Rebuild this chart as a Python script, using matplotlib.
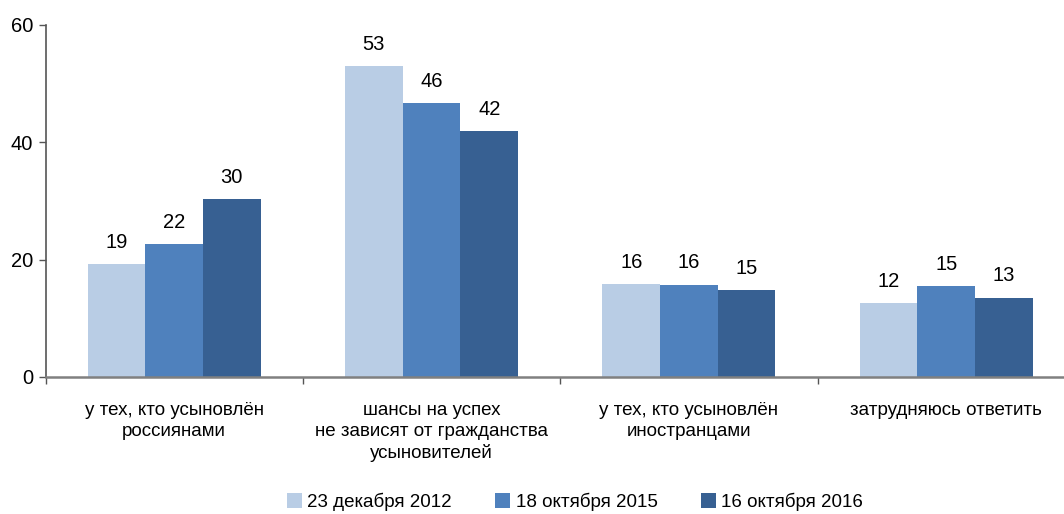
import matplotlib
matplotlib.use("Agg")
import matplotlib.pyplot as plt
import numpy as np
from matplotlib import font_manager

categories = ["у тех, кто усыновлён\nроссиянами",
              "шансы на успех\nне зависят от гражданства\nусыновителей",
              "у тех, кто усыновлён\nиностранцами",
              "затрудняюсь ответить"]
series_names = ["23 декабря 2012", "18 октября 2015", "16 октября 2016"]
values_2012 = [19.2, 53.0, 15.8, 12.6]
values_2015 = [22.6, 46.7, 15.7, 15.5]
values_2016 = [30.3, 41.9, 14.8, 13.5]
labels_2012 = [19, 53, 16, 12]
labels_2015 = [22, 46, 16, 15]
labels_2016 = [30, 42, 15, 13]
yticks = [0, 20, 40, 60]

colors = ["#B9CDE5", "#4F81BD", "#376092"]

names = {f.name for f in font_manager.fontManager.ttflist}
fam = ["Liberation Sans Narrow", "DejaVu Sans"] if "Liberation Sans Narrow" in names else ["Liberation Sans", "DejaVu Sans"]
plt.rcParams['font.family'] = fam

fig = plt.figure(figsize=(10.64, 5.14), dpi=100)
ax = fig.add_axes([45.5/1064, 137/514, (1075-45.5)/1064, 352/514])

x = np.arange(len(categories))
w = 0.224
series = [values_2012, values_2015, values_2016]
labels = [labels_2012, labels_2015, labels_2016]
for i, (vals, labs) in enumerate(zip(series, labels)):
    pos = x + (i - 1) * w
    ax.bar(pos, vals, width=w, color=colors[i], label=series_names[i], zorder=2)
    for p, v, l in zip(pos, vals, labs):
        ax.annotate(str(l), (p, v), xytext=(0, 9), textcoords="offset points",
                    ha="center", va="bottom", fontsize=14.5, color="#000000")

ax.set_xlim(-0.5, len(categories) - 0.5)
ax.set_ylim(0, 60)
ax.set_yticks(yticks)
ax.set_yticklabels([str(t) for t in yticks], fontsize=14.5, color="#000000")
ax.set_xticks(np.arange(len(categories) + 1) - 0.5)
ax.set_xticklabels([])
ax.tick_params(axis='x', length=5, width=1, color="#555555", direction='out')
ax.tick_params(axis='y', length=5, width=1, color="#555555", direction='out', pad=4)
for c, xc in zip(categories, x):
    ax.text(xc, -0.072, c, transform=ax.get_xaxis_transform(), ha="center", va="top",
            fontsize=13.5, color="#000000", linespacing=1.3)

for s in ["top", "right"]:
    ax.spines[s].set_visible(False)
ax.spines["left"].set_color("#555555")
ax.spines["bottom"].set_color("#808080")
ax.spines["left"].set_linewidth(1.2)
ax.spines["bottom"].set_linewidth(1.8)

leg = fig.legend(loc="center", bbox_to_anchor=(575/1064, 1 - 502/514), ncol=3, frameon=False,
                 fontsize=13.5, handlelength=0.8, handleheight=0.8, handletextpad=0.3,
                 columnspacing=2.3)

fig.savefig("out.png", dpi=100)
